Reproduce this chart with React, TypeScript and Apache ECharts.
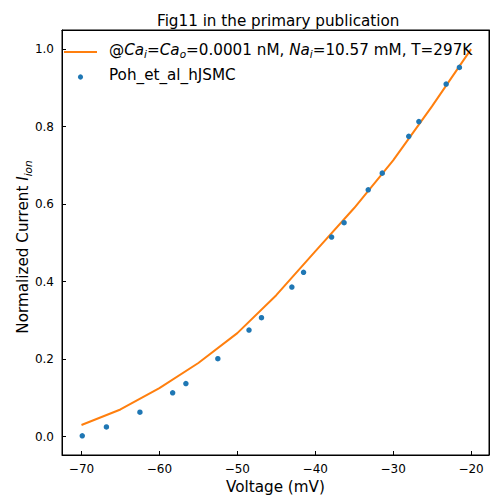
import React, { useEffect, useRef } from "react";
import * as echarts from "echarts";

const lineVoltage = [-70, -65, -60, -55, -50, -45, -40, -35, -30, -25, -20];
const lineCurrent = [0.03, 0.07, 0.125, 0.19, 0.267, 0.365, 0.478, 0.59, 0.713, 0.853, 1.0];

const dataVoltage = [-69.9, -66.8, -62.5, -58.3, -56.6, -52.5, -48.5, -46.9, -43.0, -41.5, -37.9, -36.3, -33.2, -31.4, -28.0, -26.7, -23.2, -21.5];
const dataCurrent = [0.002, 0.025, 0.063, 0.113, 0.137, 0.201, 0.275, 0.307, 0.386, 0.424, 0.515, 0.552, 0.637, 0.68, 0.775, 0.813, 0.91, 0.953];

const xTicks = [-70, -60, -50, -40, -30, -20];
const yTicks = [0, 0.2, 0.4, 0.6, 0.8, 1.0];

const FONT = "DejaVu Sans";

export default function App() {
  const ref = useRef<HTMLDivElement>(null);
  useEffect(() => {
    if (!ref.current) return;
    const chart = echarts.init(ref.current, undefined, { renderer: "svg" });
    const lineData = lineVoltage.map((v, i) => [v, lineCurrent[i]]);
    const ptData = dataVoltage.map((v, i) => [v, dataCurrent[i]]);
    const baseRich = {
      n: { fontSize: 15.2, fontFamily: FONT, color: "#000", lineHeight: 20, verticalAlign: "middle" },
      it: { fontSize: 15.2, fontFamily: FONT, fontStyle: "italic", color: "#000", lineHeight: 20, verticalAlign: "middle" },
      sub: { fontSize: 10.5, fontFamily: FONT, fontStyle: "italic", color: "#000", lineHeight: 10, verticalAlign: "bottom" },
    };
    const axisLine = { show: true, onZero: false, lineStyle: { color: "#000", width: 1 } };
    chart.setOption({
      animation: false,
      backgroundColor: "#fff",
      title: {
        text: "Fig11 in the primary publication",
        left: 152,
        top: 8,
        textStyle: { fontFamily: FONT, fontSize: 15.2, fontWeight: "normal", color: "#000" },
      },
      grid: {
        left: 62,
        right: 4,
        top: 30,
        bottom: 41,
        outerBoundsMode: "none",
        containLabel: false,
        show: true,
        borderColor: "#000",
        borderWidth: 1,
        backgroundColor: "rgba(0,0,0,0)",
      },
      xAxis: [
        {
          type: "value",
          min: -72.5,
          max: -17.7,
          name: "Voltage (mV)",
          nameLocation: "middle",
          nameGap: 23,
          nameTextStyle: { fontFamily: FONT, fontSize: 15.2, color: "#000" },
          axisLine,
          splitLine: { show: false },
          axisTick: { show: true, inside: true, length: 4, customValues: xTicks, lineStyle: { color: "#000" } },
          axisLabel: {
            customValues: xTicks,
            fontFamily: FONT,
            fontSize: 12,
            color: "#000",
            margin: 8,
            formatter: (v: number) => (v < 0 ? "\u2212" + Math.abs(v) : String(v)),
          },
        },
        {
          type: "value",
          position: "top",
          min: -72.5,
          max: -17.7,
          axisLine,
          splitLine: { show: false },
          axisTick: { show: false },
          axisLabel: { show: false },
        },
      ],
      yAxis: [
        {
          type: "value",
          min: -0.0475,
          max: 1.0495,
          axisLine,
          splitLine: { show: false },
          axisTick: { show: true, inside: true, length: 4, customValues: yTicks, lineStyle: { color: "#000" } },
          axisLabel: {
            customValues: yTicks,
            fontFamily: FONT,
            fontSize: 12,
            color: "#000",
            margin: 8,
            formatter: (v: number) => v.toFixed(1),
          },
        },
        {
          type: "value",
          position: "right",
          min: -0.0475,
          max: 1.0495,
          axisLine,
          splitLine: { show: false },
          axisTick: { show: false },
          axisLabel: { show: false },
        },
      ],
      graphic: [
        {
          type: "text",
          x: 23,
          y: 247,
          rotation: Math.PI / 2,
          z: 100,
          style: {
            text: "{n|Normalized Current }{it|I}{sub|ion}",
            rich: baseRich,
            align: "center",
            verticalAlign: "middle",
          },
        },
        {
          type: "line",
          shape: { x1: 64, y1: 52, x2: 97, y2: 52 },
          style: { stroke: "#ff7f0e", lineWidth: 2 },
          z: 100,
        },
        {
          type: "circle",
          shape: { cx: 80.5, cy: 77, r: 2.6 },
          style: { fill: "#1f77b4" },
          z: 100,
        },
        {
          type: "text",
          left: 109,
          top: 42,
          z: 100,
          style: {
            text: "{n|@}{it|Ca}{sub|i}{n|=}{it|Ca}{sub|o}{n|=0.0001 nM, }{it|Na}{sub|i}{n|=10.57 mM, T=297K}",
            rich: baseRich,
          },
        },
        {
          type: "text",
          left: 109,
          top: 67,
          z: 100,
          style: {
            text: "{n|Poh_et_al_hJSMC}",
            rich: baseRich,
          },
        },
      ],
      series: [
        {
          type: "line",
          data: lineData,
          showSymbol: false,
          symbol: "none",
          lineStyle: { color: "#ff7f0e", width: 2 },
          itemStyle: { color: "#ff7f0e" },
          z: 2,
        },
        {
          type: "scatter",
          data: ptData,
          symbolSize: 5.5,
          itemStyle: { color: "#1f77b4", opacity: 1 },
          z: 3,
        },
      ],
    });
    return () => chart.dispose();
  }, []);
  return <div ref={ref} style={{ position: "absolute", left: 0, top: 0, width: 493, height: 496 }} />;
}
